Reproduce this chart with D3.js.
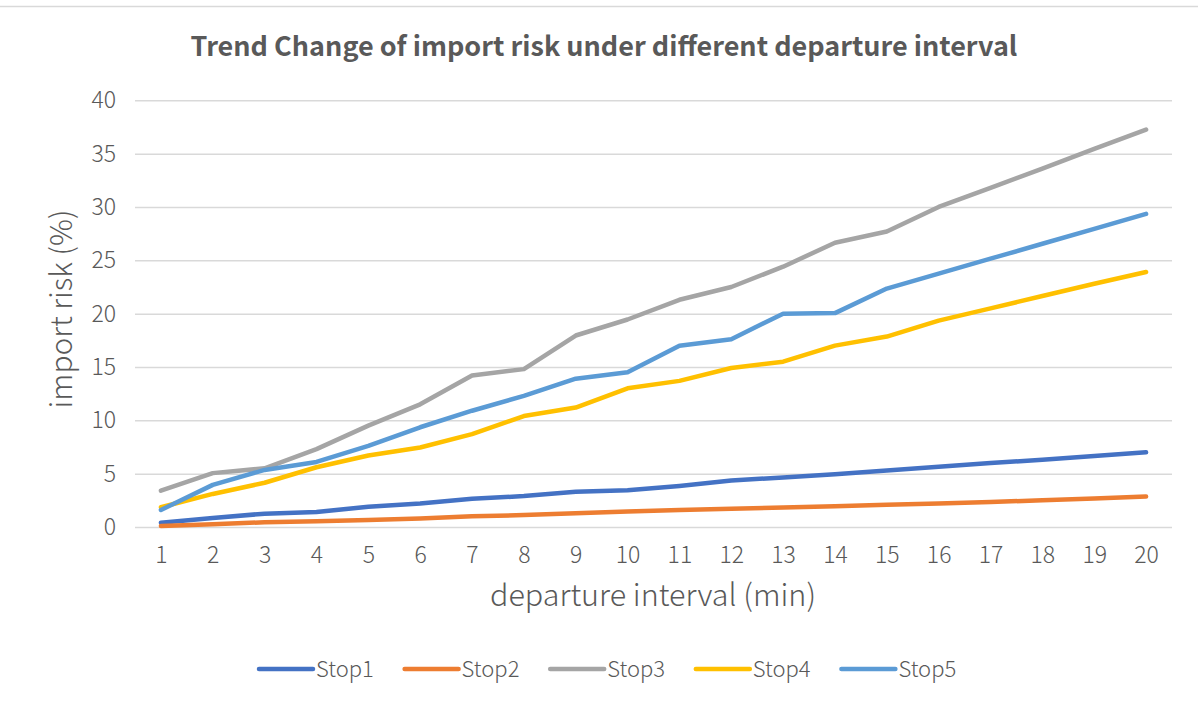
<!DOCTYPE html>
<html>
  <body style="margin:0;background:#fff">
    <style>
      svg text { font-family: "Noto Sans CJK SC", "Open Sans", sans-serif; fill: #595959; }
    </style>
    <script src="https://d3js.org/d3.v7.min.js"></script>
    <script type="text/javascript">
      const width = 1198;
      const height = 704;

      const intervals = d3.range(1, 21);
      const seriesNames = ['Stop1', 'Stop2', 'Stop3', 'Stop4', 'Stop5'];
      const stop1 = [0.4, 0.85, 1.25, 1.4, 1.9, 2.2, 2.65, 2.9, 3.3, 3.45, 3.85, 4.35, 4.65, 4.95, 5.3, 5.65, 6.0, 6.3, 6.65, 7.0];
      const stop2 = [0.1, 0.25, 0.45, 0.55, 0.65, 0.8, 1.0, 1.12, 1.28, 1.45, 1.6, 1.7, 1.82, 1.95, 2.08, 2.2, 2.35, 2.5, 2.68, 2.85];
      const stop3 = [3.4, 5.05, 5.5, 7.3, 9.5, 11.5, 14.2, 14.8, 17.95, 19.45, 21.3, 22.5, 24.4, 26.65, 27.7, 30.0, 31.8, 33.6, 35.45, 37.25];
      const stop4 = [1.85, 3.1, 4.15, 5.6, 6.7, 7.45, 8.7, 10.4, 11.2, 13.0, 13.7, 14.9, 15.5, 17.0, 17.85, 19.35, 20.5, 21.65, 22.8, 23.9];
      const stop5 = [1.6, 3.95, 5.35, 6.1, 7.6, 9.35, 10.9, 12.3, 13.9, 14.5, 17.0, 17.6, 20.0, 20.05, 22.35, 23.75, 25.15, 26.55, 27.95, 29.35];
      const colors = ['#4472C4', '#ED7D31', '#A5A5A5', '#FFC000', '#5B9BD5'];
      const yTicks = [0, 5, 10, 15, 20, 25, 30, 35, 40];

      const allSeries = [stop1, stop2, stop3, stop4, stop5];

      const svg = d3.select('body')
        .append('svg')
        .attr('width', width)
        .attr('height', height);

      // outer chart frame (only top edge is visible in the crop)
      svg.append('line')
        .attr('x1', 0).attr('x2', width)
        .attr('y1', 6.5).attr('y2', 6.5)
        .attr('stroke', '#d9d9d9')
        .attr('stroke-width', 1.5);

      const plotLeft = 135;
      const plotRight = 1172;
      const plotTop = 100.3;
      const plotBottom = 527;

      const x = d3.scalePoint()
        .domain(intervals)
        .range([plotLeft, plotRight])
        .padding(0.5);

      const y = d3.scaleLinear()
        .domain([0, 40])
        .range([plotBottom, plotTop]);

      // gridlines
      svg.append('g')
        .attr('transform', `translate(${plotLeft},0)`)
        .call(d3.axisLeft(y).tickValues(yTicks).tickSize(-(plotRight - plotLeft)).tickFormat(''))
        .call((g) => g.select('.domain').remove())
        .call((g) => g.selectAll('line').attr('stroke', '#d9d9d9').attr('stroke-width', 1.5));

      // y tick labels
      svg.append('g')
        .attr('transform', `translate(${plotLeft},0)`)
        .call(d3.axisLeft(y).tickValues(yTicks).tickSize(0).tickPadding(19))
        .call((g) => g.select('.domain').remove())
        .call((g) => g.selectAll('text').attr('font-size', 23).attr('font-weight', 300).attr('fill', '#595959'));

      // x tick labels
      svg.append('g')
        .attr('transform', `translate(0,${plotBottom})`)
        .call(d3.axisBottom(x).tickSize(0).tickPadding(20))
        .call((g) => g.select('.domain').remove())
        .call((g) => g.selectAll('text').attr('font-size', 23).attr('font-weight', 300).attr('fill', '#595959'));

      const line = d3.line()
        .x((d, i) => x(intervals[i]))
        .y((d) => y(d));

      svg.append('g')
        .selectAll('path')
        .data(allSeries)
        .enter()
        .append('path')
        .attr('d', line)
        .attr('fill', 'none')
        .attr('stroke', (d, i) => colors[i])
        .attr('stroke-width', 4.5)
        .attr('stroke-linecap', 'round')
        .attr('stroke-linejoin', 'round');

      // title
      svg.append('text')
        .attr('x', 604)
        .attr('y', 56)
        .attr('text-anchor', 'middle')
        .attr('font-size', 27)
        .attr('font-weight', 'bold')
        .text('Trend Change of import risk under different departure interval');

      // axis titles
      svg.append('text')
        .attr('x', 653)
        .attr('y', 606)
        .attr('text-anchor', 'middle')
        .attr('font-size', 30.5)
        .attr('font-weight', 300)
        .text('departure interval (min)');

      svg.append('text')
        .attr('transform', 'translate(72,309) rotate(-90)')
        .attr('text-anchor', 'middle')
        .attr('font-size', 30)
        .attr('font-weight', 300)
        .text('import risk (%)');

      // legend
      const legend = svg.append('g')
        .selectAll('g')
        .data(seriesNames)
        .enter()
        .append('g')
        .attr('transform', (d, i) => `translate(${259 + i * 145.6},669)`);

      legend.append('line')
        .attr('x1', 0).attr('x2', 54)
        .attr('y1', 0).attr('y2', 0)
        .attr('stroke', (d, i) => colors[i])
        .attr('stroke-width', 4.5)
        .attr('stroke-linecap', 'round');

      legend.append('text')
        .attr('x', 57)
        .attr('y', 8)
        .attr('font-size', 22)
        .attr('font-weight', 300)
        .text((d) => d);
    </script>
  </body>
</html>
